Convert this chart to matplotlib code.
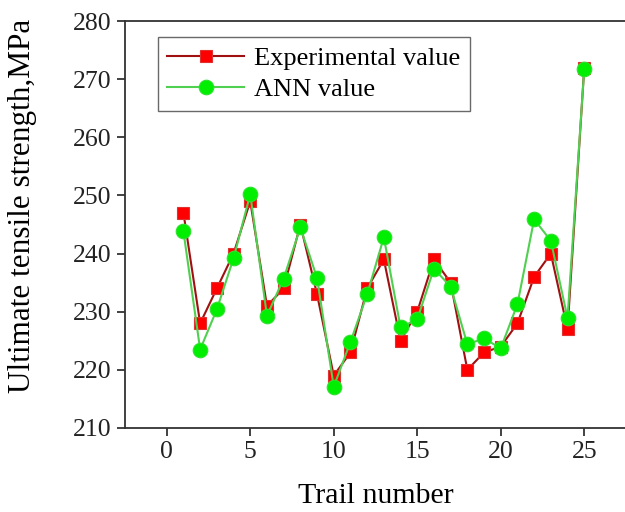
import matplotlib
matplotlib.use("Agg")
import matplotlib.pyplot as plt

trail = list(range(1, 26))
experimental = [247, 228, 234, 240, 249, 231, 234, 245, 233, 219, 223, 234, 239,
                225, 230, 239, 235, 220, 223, 224, 228, 236, 240, 227, 272]
ann = [243.8, 223.5, 230.4, 239.2, 250.2, 229.3, 235.7, 244.5, 235.8, 217.1, 224.8,
       233.0, 242.8, 227.3, 228.7, 237.4, 234.3, 224.4, 225.4, 223.7, 231.3, 245.9,
       242.2, 228.9, 271.8]
xticks = [0, 5, 10, 15, 20, 25]
yticks = [210, 220, 230, 240, 250, 260, 270, 280]

plt.rcParams['font.family'] = ['Liberation Serif', 'DejaVu Serif']

fig = plt.figure(figsize=(6.25, 5.12), dpi=100)
ax = fig.add_axes([125/625, 1 - 428/512, (626 - 125)/625, (428 - 21)/512])

ax.plot(trail, experimental, color='#a01010', lw=1.5, marker='s', markersize=8.5,
        markerfacecolor='#ff0000', markeredgecolor='#e03030', markeredgewidth=0.8,
        label='Experimental value')
ax.plot(trail, ann, color='#50d050', lw=1.5, marker='o', markersize=10.5,
        markerfacecolor='#00ee00', markeredgecolor='#30e030', markeredgewidth=0.8,
        label='ANN value')

ax.set_xlim(-2.5, 27.5)
ax.set_ylim(210, 280)
ax.set_xticks(xticks)
ax.set_yticks(yticks)
ax.tick_params(direction='out', length=6, width=1.2, labelsize=18.5, colors='#222222')
for s in ax.spines.values():
    s.set_linewidth(1.3)
    s.set_color('#333333')

ax.set_xlabel('Trail number', fontsize=21.5, labelpad=14)
ax.set_ylabel('Ultimate tensile strength,MPa', fontsize=22.5)
ax.yaxis.set_label_coords(-0.176, 0.545)

leg = ax.legend(loc='upper left', bbox_to_anchor=(0.066, 0.96), fontsize=19,
                frameon=True, fancybox=False, edgecolor='#444444',
                handlelength=2.9, borderpad=0.35, labelspacing=0.3, handletextpad=0.4,
                borderaxespad=0)
leg.get_frame().set_linewidth(1.0)

fig.savefig('out.png', dpi=100)
